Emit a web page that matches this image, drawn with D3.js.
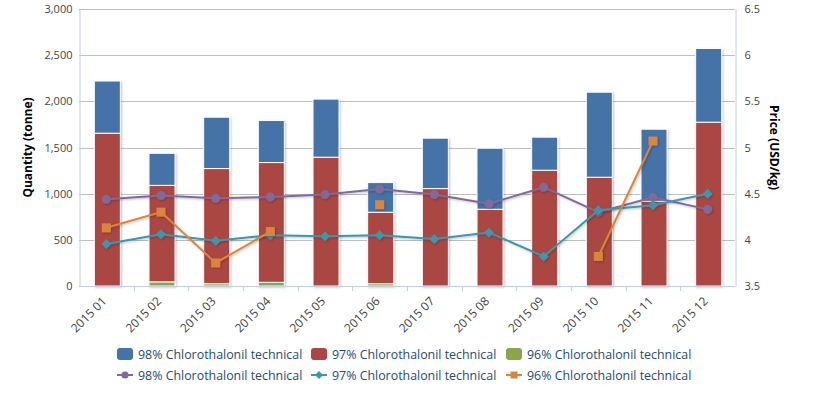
<!DOCTYPE html>
<html>
<head>
<meta charset="utf-8">
<script src="https://cdn.jsdelivr.net/npm/d3@7/dist/d3.min.js"></script>
<style>
  body { margin: 0; background: #fff; }
  #chart { width: 821px; height: 399px; }
  text { font-family: "Open Sans", "Noto Sans", sans-serif; }
</style>
</head>
<body>
<div id="chart"></div>
<script>
// Data
const months = ["2015 01", "2015 02", "2015 03", "2015 04", "2015 05", "2015 06",
  "2015 07", "2015 08", "2015 09", "2015 10", "2015 11", "2015 12"];
const qty98 = [565, 347, 556, 455, 629, 321, 546, 661, 358, 921, 780, 798];
const qty97 = [1655, 1045, 1247, 1297, 1395, 774, 1055, 831, 1254, 1178, 918, 1774];
const qty96 = [0, 45, 25, 40, 0, 25, 0, 0, 0, 0, 0, 0];
const price98 = [4.44, 4.48, 4.45, 4.465, 4.49, 4.55, 4.49, 4.39, 4.57, 4.30, 4.46, 4.33];
const price97 = [3.955, 4.06, 3.99, 4.05, 4.04, 4.05, 4.01, 4.08, 3.82, 4.32, 4.375, 4.50];
const price96 = [4.13, 4.30, 3.75, 4.09, null, 4.38, null, null, null, 3.82, 5.07, null];
const qtyTicks = [0, 500, 1000, 1500, 2000, 2500, 3000];
const priceTicks = [3.5, 4, 4.5, 5, 5.5, 6, 6.5];
const seriesNames = ["98% Chlorothalonil technical", "97% Chlorothalonil technical", "96% Chlorothalonil technical"];

// Colours
const barColors = ["#4572A7", "#AA4643", "#89A54E"];
const lineColors = ["#80699B", "#3D96AE", "#DB843D"];

const width = 821;
const height = 399;
const plot = { left: 79, right: 735, top: 9, bottom: 286 };

const svg = d3.select("#chart").append("svg")
  .attr("width", width)
  .attr("height", height);

// shadow filter
const defs = svg.append("defs");
const shadow = defs.append("filter").attr("id", "shadow")
  .attr("x", "-20%").attr("y", "-20%").attr("width", "140%").attr("height", "140%");
shadow.append("feDropShadow")
  .attr("dx", 1).attr("dy", 1).attr("stdDeviation", 1)
  .attr("flood-color", "#000").attr("flood-opacity", 0.25);

// Scales
const x = d3.scaleBand().domain(months).range([plot.left, plot.right]);
const yQty = d3.scaleLinear().domain([0, 3000]).range([plot.bottom, plot.top]);
const yPrice = d3.scaleLinear().domain([3.5, 6.5]).range([plot.bottom, plot.top]);

// Grid lines
svg.append("g")
  .selectAll("line")
  .data(qtyTicks.slice(1))
  .enter().append("line")
  .attr("x1", plot.left).attr("x2", plot.right)
  .attr("y1", d => Math.round(yQty(d)) + 0.5)
  .attr("y2", d => Math.round(yQty(d)) + 0.5)
  .attr("stroke", "#C0C0C0");

// Left axis
const yAxisLeft = d3.axisLeft(yQty).tickValues(qtyTicks).tickSize(0).tickPadding(7)
  .tickFormat(d3.format(","));
svg.append("g")
  .attr("transform", `translate(${plot.left + 0.5},0)`)
  .call(yAxisLeft)
  .call(g => g.select(".domain").attr("stroke", "#C0D0E0"))
  .selectAll(".tick text")
  .attr("font-size", "11px")
  .attr("fill", "#444");

// Right axis
const yAxisRight = d3.axisRight(yPrice).tickValues(priceTicks).tickSize(0).tickPadding(9)
  .tickFormat(d => d);
svg.append("g")
  .attr("transform", `translate(${plot.right + 0.5},0)`)
  .call(yAxisRight)
  .call(g => g.select(".domain").attr("stroke", "#C0D0E0"))
  .selectAll(".tick text")
  .attr("font-size", "11px")
  .attr("fill", "#444");

// Axis titles
svg.append("text")
  .attr("transform", `translate(27, ${(plot.top + plot.bottom) / 2}) rotate(-90)`)
  .attr("text-anchor", "middle")
  .attr("dominant-baseline", "central")
  .attr("font-size", "12px")
  .attr("font-weight", "bold")
  .attr("fill", "#000")
  .text("Quantity (tonne)");
svg.append("text")
  .attr("transform", `translate(774, ${(plot.top + plot.bottom) / 2}) rotate(90)`)
  .attr("text-anchor", "middle")
  .attr("dominant-baseline", "central")
  .attr("font-size", "12px")
  .attr("font-weight", "bold")
  .attr("fill", "#000")
  .text("Price (USD/kg)");

// Stacked bars (96% at bottom, 97% middle, 98% on top)
const stackData = months.map((m, i) => ({ month: m, s98: qty98[i], s97: qty97[i], s96: qty96[i] }));
const stack = d3.stack().keys(["s96", "s97", "s98"]);
const layers = stack(stackData);
const layerColor = { s98: barColors[0], s97: barColors[1], s96: barColors[2] };
const barWidth = 26;

const bars = svg.append("g").attr("filter", "url(#shadow)");
layers.forEach(layer => {
  bars.append("g")
    .selectAll("rect")
    .data(layer.filter(d => d[1] - d[0] > 0))
    .enter().append("rect")
    .attr("x", d => x(d.data.month) + x.bandwidth() / 2 - barWidth / 2 + 1)
    .attr("y", d => yQty(d[1]))
    .attr("width", barWidth)
    .attr("height", d => yQty(d[0]) - yQty(d[1]))
    .attr("fill", layerColor[layer.key])
    .attr("stroke", "#fff")
    .attr("stroke-width", 1);
});

// X axis
svg.append("line")
  .attr("x1", plot.left).attr("x2", plot.right)
  .attr("y1", plot.bottom + 0.5).attr("y2", plot.bottom + 0.5)
  .attr("stroke", "#C0D0E0");
svg.append("g")
  .selectAll("line")
  .data(months.slice(1))
  .enter().append("line")
  .attr("x1", d => Math.round(x(d)) + 0.5)
  .attr("x2", d => Math.round(x(d)) + 0.5)
  .attr("y1", plot.bottom).attr("y2", plot.bottom + 5)
  .attr("stroke", "#C0D0E0");
svg.append("g")
  .selectAll("text")
  .data(months)
  .enter().append("text")
  .attr("transform", d => `translate(${x(d) + x.bandwidth() / 2 + 1}, 302) rotate(-45)`)
  .attr("text-anchor", "end")
  .attr("font-size", "12px")
  .attr("fill", "#444")
  .text(d => d);

// Price lines
const priceSeries = [price98, price97, price96];
const line = d3.line()
  .defined(d => d.v !== null)
  .x(d => x(d.m) + x.bandwidth() / 2)
  .y(d => yPrice(d.v));

const lines = svg.append("g");
priceSeries.forEach((vals, k) => {
  const pts = months.map((m, i) => ({ m: m, v: vals[i] }));
  const g = lines.append("g").attr("filter", "url(#shadow)");
  g.append("path")
    .datum(pts)
    .attr("d", line)
    .attr("fill", "none")
    .attr("stroke", lineColors[k])
    .attr("stroke-width", 2);
  g.selectAll("path.marker")
    .data(pts.filter(d => d.v !== null))
    .enter().append("path")
    .attr("class", "marker")
    .attr("transform", d => `translate(${x(d.m) + x.bandwidth() / 2}, ${yPrice(d.v)})`)
    .attr("d", markerPath(k))
    .attr("fill", lineColors[k]);
});

function markerPath(k) {
  if (k === 0) return d3.symbol(d3.symbolCircle, 64)();
  if (k === 1) return "M0,-5L5,0L0,5L-5,0Z";
  return "M-4.5,-4.5L4.5,-4.5L4.5,4.5L-4.5,4.5Z";
}

// Legend
const legendX = [117, 311, 506];
const legend = svg.append("g");
seriesNames.forEach((name, k) => {
  // bar legend row
  legend.append("rect")
    .attr("x", legendX[k]).attr("y", 348)
    .attr("width", 16).attr("height", 12)
    .attr("rx", 3)
    .attr("fill", barColors[k]);
  legend.append("text")
    .attr("x", legendX[k] + 21).attr("y", 358.5)
    .attr("font-size", "12.4px")
    .attr("fill", "#274b6d")
    .text(name);
  // line legend row
  legend.append("line")
    .attr("x1", legendX[k]).attr("x2", legendX[k] + 16)
    .attr("y1", 375).attr("y2", 375)
    .attr("stroke", lineColors[k])
    .attr("stroke-width", 2);
  legend.append("path")
    .attr("transform", `translate(${legendX[k] + 8}, 375)`)
    .attr("d", k === 0 ? d3.symbol(d3.symbolCircle, 40)() :
      k === 1 ? "M0,-4L4,0L0,4L-4,0Z" : "M-3.5,-3.5L3.5,-3.5L3.5,3.5L-3.5,3.5Z")
    .attr("fill", lineColors[k]);
  legend.append("text")
    .attr("x", legendX[k] + 21).attr("y", 379.5)
    .attr("font-size", "12.4px")
    .attr("fill", "#274b6d")
    .text(name);
});
</script>
</body>
</html>
